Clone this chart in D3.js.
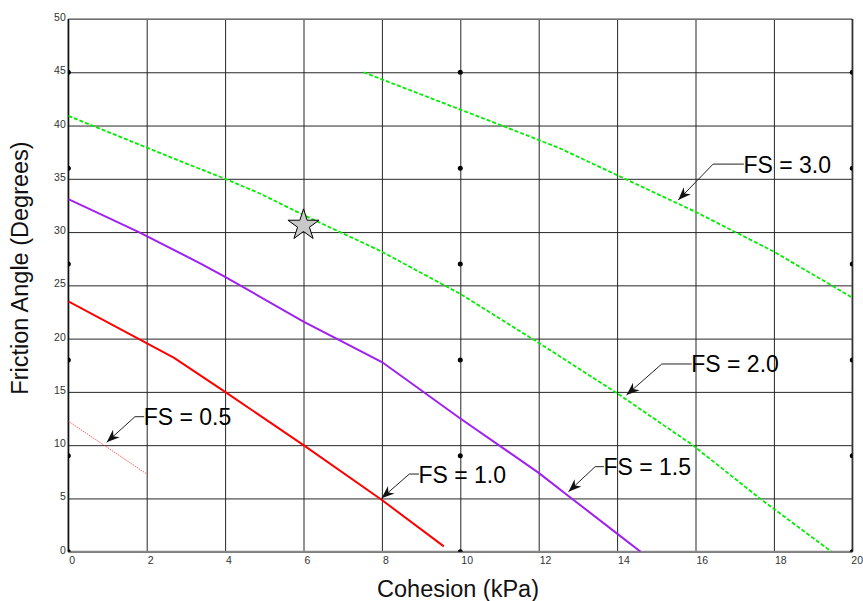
<!DOCTYPE html>
<html><head><meta charset="utf-8">
<script src="https://cdn.jsdelivr.net/npm/d3@7"></script>
<style>body{margin:0;background:#fff;} svg{display:block;font-family:"Liberation Sans",Arial,sans-serif;}</style>
</head><body><svg id="c" width="863" height="601"></svg>
<script>
// ---- data ----
const xTicks = [0,2,4,6,8,10,12,14,16,18,20];
const yTicks = [0,5,10,15,20,25,30,35,40,45,50];
const markerX = [0,10,20];
const markerY = [0,9,18,27,36,45];
const fs05 = [[0,12.25],[2,7.3]];
const fs10 = [[0,23.5],[2.7,18.2],[4,15],[6,10],[8,4.85],[9.58,0.5]];
const fs15 = [[0,33.1],[1.8,30],[3.4,27],[4,25.8],[6,21.6],[8,17.8],[10,12.5],[11.1,9.7],[12,7.4],[12.84,5],[14,1.7],[14.6,0]];
const fs20 = [[0,40.9],[3.1,36.3],[4,35],[4.9,33.6],[6,31.6],[7.95,28.25],[10,24.2],[12,19.6],[13.95,15],[15.93,10],[17.64,5],[19.47,0]];
const fs30 = [[7.53,45],[10,41.5],[11.06,40],[12.54,37.86],[14.2,35],[16,31.9],[18,28.16],[19.47,25],[20,23.84]];
const starPoint = [6,30.64];
const annLabels = ["FS = 0.5","FS = 1.0","FS = 1.5","FS = 2.0","FS = 3.0"];
const annText  = [[1.96,11.89],[8.97,6.42],[13.69,7.2],[15.93,16.84],[17.26,35.52]];
const annElbow = [[1.70,12.67],[8.70,7.29],[13.44,7.98],[15.14,17.62],[16.45,36.38]];
const annTip   = [[0.98,10.27],[7.99,5.01],[12.76,5.63],[14.24,14.71],[15.56,33.01]];

// ---- chart ----
const svg = d3.select("#c");
const x = d3.scaleLinear().domain([0,20]).range([68.3,852.3]);
const y = d3.scaleLinear().domain([0,50]).range([551.7,19]);

svg.append("defs").append("clipPath").attr("id","clip")
  .append("rect").attr("x",x(0)).attr("y",y(50)).attr("width",x(20)-x(0)).attr("height",y(0)-y(50));

// grid
const gx = svg.append("g").attr("transform",`translate(0,${y(0)})`)
  .call(d3.axisBottom(x).tickValues(xTicks).tickSize(-(y(0)-y(50))).tickFormat(""));
gx.select(".domain").remove();
gx.selectAll("line").attr("stroke","#262626").attr("stroke-width",1);
const gy = svg.append("g").attr("transform",`translate(${x(0)},0)`)
  .call(d3.axisLeft(y).tickValues(yTicks).tickSize(-(x(20)-x(0))).tickFormat(""));
gy.select(".domain").remove();
gy.selectAll("line").attr("stroke","#262626").attr("stroke-width",1);

// frame
svg.append("line").attr("x1",x(0)).attr("x2",x(20)).attr("y1",y(50)).attr("y2",y(50)).attr("stroke","#888").attr("stroke-width",1.5);
svg.append("line").attr("x1",x(0)).attr("x2",x(20)).attr("y1",y(0)).attr("y2",y(0)).attr("stroke","#888").attr("stroke-width",2);
svg.append("line").attr("x1",x(0)).attr("x2",x(0)).attr("y1",y(50)).attr("y2",y(0)).attr("stroke","#111").attr("stroke-width",1.5);
svg.append("line").attr("x1",x(20)).attr("x2",x(20)).attr("y1",y(50)).attr("y2",y(0)).attr("stroke","#333").attr("stroke-width",1.5);

// tick labels
const xa = svg.append("g").attr("transform",`translate(0,${y(0)})`)
  .call(d3.axisBottom(x).tickValues(xTicks).tickSize(0).tickPadding(0).tickFormat(d3.format("d")));
xa.select(".domain").remove();
xa.selectAll("text").attr("text-anchor","start").attr("dx",d=>d===20?-1.5:0.5).attr("dy",0).attr("y",12.5)
  .attr("font-size",10.5).attr("font-family","Liberation Sans, Arial, sans-serif").attr("fill","#333");
const ya = svg.append("g").attr("transform",`translate(${x(0)},0)`)
  .call(d3.axisLeft(y).tickValues(yTicks).tickSize(0).tickPadding(0).tickFormat(d3.format("d")));
ya.select(".domain").remove();
ya.selectAll("text").attr("text-anchor","end").attr("x",-2.5).attr("dy",1.5)
  .attr("font-size",10.5).attr("font-family","Liberation Sans, Arial, sans-serif").attr("fill","#333");

// markers
const plot = svg.append("g").attr("clip-path","url(#clip)");
const markers = [];
markerX.forEach(a=>markerY.forEach(b=>markers.push([a,b])));
plot.selectAll("circle.m").data(markers).enter().append("circle")
  .attr("cx",d=>x(d[0])).attr("cy",d=>y(d[1])).attr("r",2.5).attr("fill","#000");

// curves
const line = d3.line().x(d=>x(d[0])).y(d=>y(d[1]));
plot.append("path").datum(fs05).attr("d",line).attr("fill","none").attr("stroke","#ff3333").attr("stroke-width",1).attr("stroke-dasharray","1.5,1").attr("opacity",0.8);
plot.append("path").datum(fs10).attr("d",line).attr("fill","none").attr("stroke","#ff0000").attr("stroke-width",2);
plot.append("path").datum(fs15).attr("d",line).attr("fill","none").attr("stroke","#a020f0").attr("stroke-width",2);
[fs20,fs30].forEach(s=>plot.append("path").datum(s).attr("d",line).attr("fill","none").attr("stroke","#00ee00").attr("stroke-width",1.8).attr("stroke-dasharray","4,2"));

// star
svg.append("path").attr("d",d3.symbol().type(d3.symbolStar).size(300)())
  .attr("transform",`translate(${x(starPoint[0])},${y(starPoint[1])})`)
  .attr("fill","#c8c8c8").attr("stroke","#000").attr("stroke-width",1);

// annotations
const ann = svg.append("g");
annLabels.forEach((lab,i)=>{
  const tx = x(annText[i][0]), ty = y(annText[i][1]);
  const ex = x(annElbow[i][0]), ey = y(annElbow[i][1]);
  const px = x(annTip[i][0]), py = y(annTip[i][1]);
  ann.append("polyline").attr("points",`${tx-1},${ey} ${ex},${ey} ${px},${py}`)
    .attr("fill","none").attr("stroke","#222").attr("stroke-width",1);
  const dx = px-ex, dy = py-ey, L = Math.hypot(dx,dy), ux = dx/L, uy = dy/L;
  const len = 13, w = 5, back = 9;
  const bx = px-ux*len, by = py-uy*len;
  const mx = px-ux*back, my = py-uy*back;
  ann.append("path").attr("d",`M${px},${py}L${bx-uy*w},${by+ux*w}L${mx},${my}L${bx+uy*w},${by-ux*w}Z`).attr("fill","#111");
  ann.append("text").attr("x",tx-1.5).attr("y",ty).attr("font-size",23).attr("fill","#000").text(lab);
});

// axis titles
svg.append("text").attr("x",458).attr("y",597).attr("text-anchor","middle").attr("font-size",23.5).attr("fill","#111").text("Cohesion (kPa)");
svg.append("text").attr("transform","translate(28,268) rotate(-90)").attr("text-anchor","middle").attr("font-size",23.5).attr("fill","#111").text("Friction Angle (Degrees)");
</script></body></html>
